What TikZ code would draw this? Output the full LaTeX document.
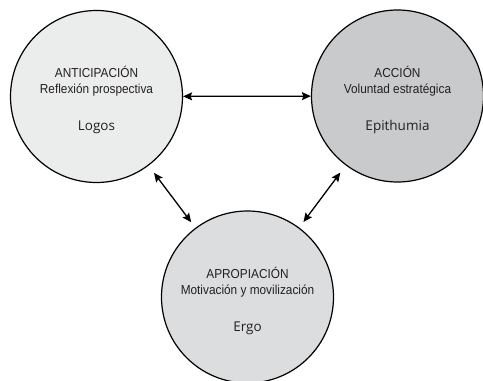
\documentclass[tikz,border=0pt]{standalone}
\usepackage{fontspec}
\setmainfont{Liberation Sans}[FakeStretch=0.91]
\newfontfamily\kwfont{Open Sans}
\usetikzlibrary{arrows.meta}
\definecolor{cA}{HTML}{EBECEC}
\definecolor{cB}{HTML}{C9CACB}
\definecolor{cC}{HTML}{DCDDDE}
\definecolor{ink}{HTML}{231F20}
\begin{document}
\begin{tikzpicture}[x=1pt,y=1pt,
  bubble/.style={circle,draw=black,line width=1.2pt,minimum size=172pt,inner sep=0pt},
  label text/.style={align=center,text=ink,font=\fontsize{13}{16}\selectfont},
  link/.style={{Stealth[length=9pt,width=8pt,inset=1.5pt]}-{Stealth[length=9pt,width=8pt,inset=1.5pt]},line width=1.3pt}]
\useasboundingbox (0,0) rectangle (483,381);
\node[bubble,fill=cA] (L) at (96.5,284.5) {};
\node[bubble,fill=cB] (R) at (397.5,285) {};
\node[bubble,fill=cC] (B) at (247.5,84) {};
\node[label text] (Lt) at ([yshift=-3.5pt]L.center) {ANTICIPACIÓN\\Reflexión prospectiva\\[21pt]{\kwfont\fontsize{13.5}{16}\selectfont Logos}};
\node[label text] (Rt) at ([yshift=-3.5pt]R.center) {ACCIÓN\\Voluntad estratégica\\[21pt]{\kwfont\fontsize{13.5}{16}\selectfont Epithumia}};
\node[label text] (Bt) at ([yshift=-3.5pt]B.center) {APROPIACIÓN\\Motivación y movilización\\[21pt]{\kwfont\fontsize{13.5}{16}\selectfont Ergo}};
\draw[link] (L) -- (R);
\draw[link,shorten <=9pt,shorten >=7pt] (L) -- (B);
\draw[link,shorten <=9pt,shorten >=7pt] (R) -- (B);
\end{tikzpicture}
\end{document}
